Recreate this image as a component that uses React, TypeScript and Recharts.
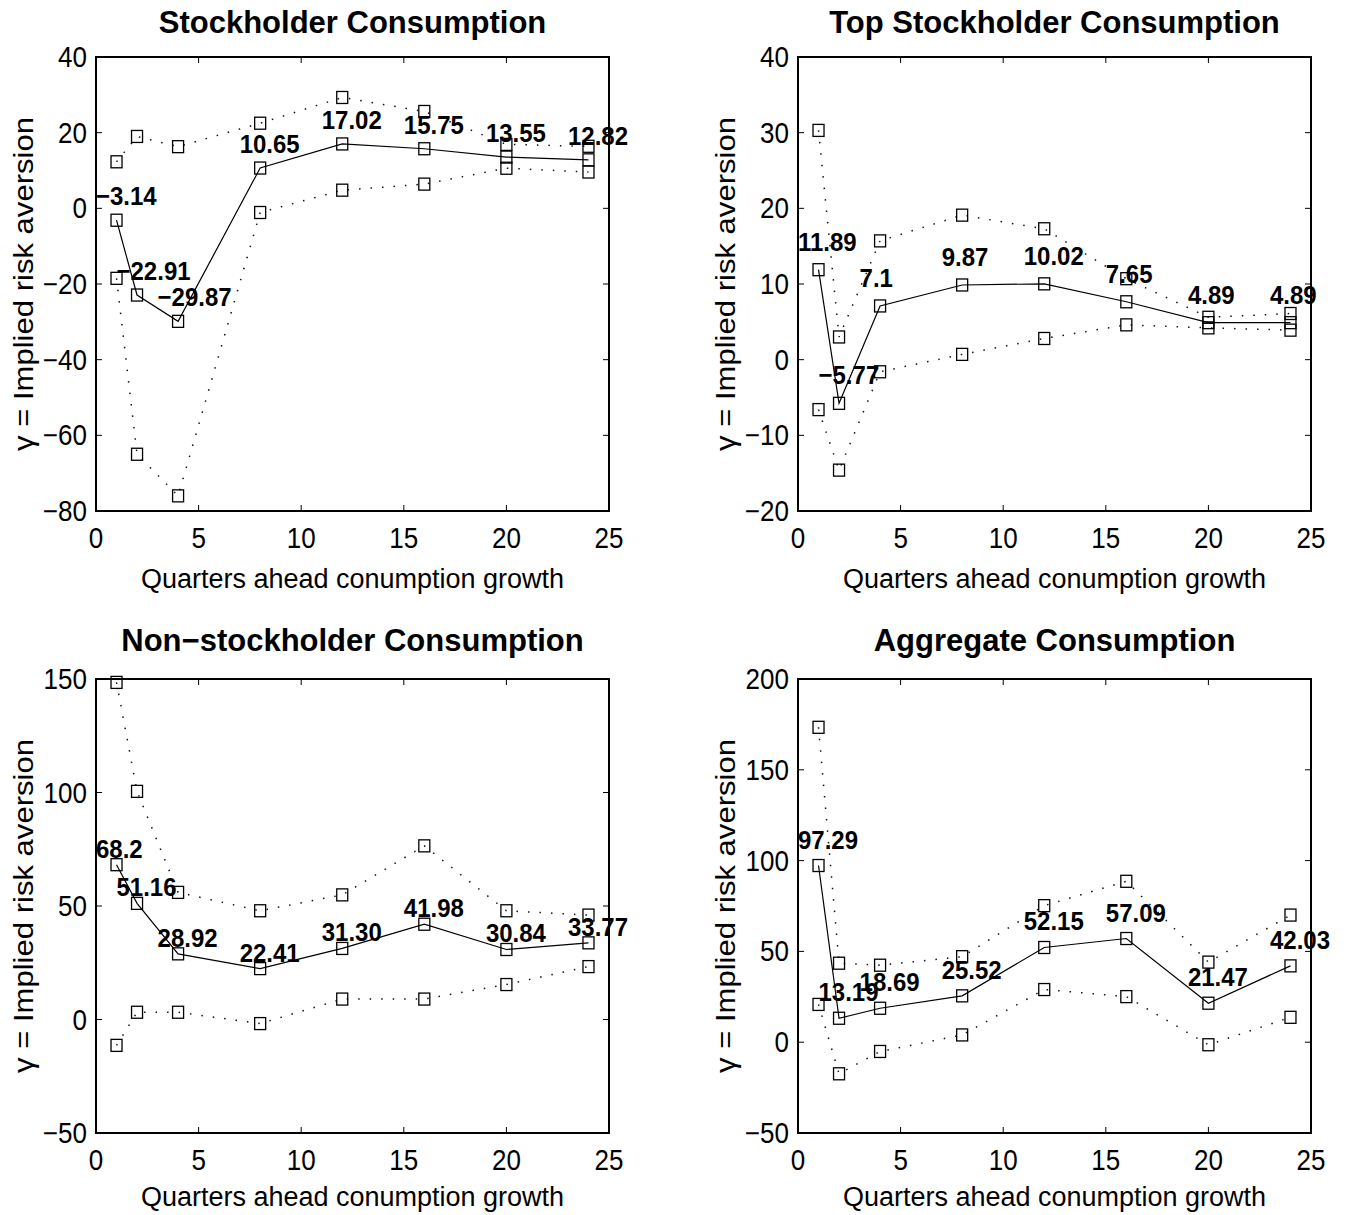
import React from 'react';
import { LabelList, Line, LineChart, ReferenceArea, XAxis, YAxis } from 'recharts';

// horizon in quarters, shared by all four panels
const quarters = [1, 2, 4, 8, 12, 16, 20, 24];
const xTicks = [0, 5, 10, 15, 20, 25];

// Stockholder consumption
const stockEst = [-3.14, -22.91, -29.87, 10.65, 17.02, 15.75, 13.55, 12.82];
const stockUpper = [12.3, 19.0, 16.3, 22.5, 29.3, 25.6, 16.9, 16.4];
const stockLower = [-18.5, -65, -76, -1.1, 4.8, 6.4, 10.6, 9.6];
const stockLabels = ['−3.14', '−22.91', '−29.87', '10.65', '17.02', '15.75', '13.55', '12.82'];
const stockTicks = [-80, -60, -40, -20, 0, 20, 40];

// Top stockholder consumption
const topEst = [11.89, -5.77, 7.1, 9.87, 10.02, 7.65, 4.89, 4.89];
const topUpper = [30.3, 3.0, 15.7, 19.1, 17.3, 10.7, 5.6, 6.1];
const topLower = [-6.6, -14.6, -1.6, 0.7, 2.8, 4.6, 4.2, 3.9];
const topLabels = ['11.89', '−5.77', '7.1', '9.87', '10.02', '7.65', '4.89', '4.89'];
const topTicks = [-20, -10, 0, 10, 20, 30, 40];

// Non-stockholder consumption
const nonEst = [68.2, 51.16, 28.92, 22.41, 31.3, 41.98, 30.84, 33.77];
const nonUpper = [148.5, 100.5, 56, 47.9, 54.9, 76.5, 47.9, 46];
const nonLower = [-11.4, 3.2, 3.2, -1.8, 9, 9, 15.4, 23.3];
const nonLabels = ['68.2', '51.16', '28.92', '22.41', '31.30', '41.98', '30.84', '33.77'];
const nonTicks = [-50, 0, 50, 100, 150];

// Aggregate consumption
const aggEst = [97.29, 13.19, 18.69, 25.52, 52.15, 57.09, 21.47, 42.03];
const aggUpper = [173.4, 43.5, 42.4, 47.1, 75.2, 88.6, 44.1, 70];
const aggLower = [20.8, -17.4, -5.1, 4, 29, 25.1, -1.4, 13.7];
const aggLabels = ['97.29', '13.19', '18.69', '25.52', '52.15', '57.09', '21.47', '42.03'];
const aggTicks = [-50, 0, 50, 100, 150, 200];

const FONT = '"Liberation Sans", Arial, Helvetica, sans-serif';
const PAD_L = 96;
const PAD_T = 57;
const PAD_R = 34;
const PAD_B = 84;
const PLOT_W = 513;
const PLOT_H = 454;
const CHART_W = PAD_L + PLOT_W + PAD_R;
const CHART_H = PAD_T + PLOT_H + PAD_B;
const PLOT_BOTTOM = PAD_T + PLOT_H;
const PLOT_RIGHT = PAD_L + PLOT_W;
const TICK_LEN = 6;
// the original figure is a bit stretched vertically, text included
const STRETCH = 1.1;

const fmt = (v: number) => (v < 0 ? '−' + Math.abs(v) : String(v));

const XTick = (props: any) => {
  const { x, payload } = props;
  return (
    <g>
      <line x1={x} x2={x} y1={PLOT_BOTTOM} y2={PLOT_BOTTOM - TICK_LEN} stroke="#000" />
      <line x1={x} x2={x} y1={PAD_T} y2={PAD_T + TICK_LEN} stroke="#000" />
      <text
        transform={`translate(${x},${PLOT_BOTTOM + 37}) scale(1,${STRETCH})`}
        textAnchor="middle"
        fontSize={26}
        fontFamily={FONT}
        fill="#000"
      >
        {fmt(payload.value)}
      </text>
    </g>
  );
};

const YTick = (props: any) => {
  const { y, payload } = props;
  return (
    <g>
      <line x1={PAD_L} x2={PAD_L + TICK_LEN} y1={y} y2={y} stroke="#000" />
      <line x1={PLOT_RIGHT} x2={PLOT_RIGHT - TICK_LEN} y1={y} y2={y} stroke="#000" />
      <text
        transform={`translate(${PAD_L - 9},${y + 10}) scale(1,${STRETCH})`}
        textAnchor="end"
        fontSize={26}
        fontFamily={FONT}
        fill="#000"
      >
        {fmt(payload.value)}
      </text>
    </g>
  );
};

const SquareDot = (p: any) => {
  if (p.cx == null || p.cy == null) return <g key={`n${p.index}`} />;
  return (
    <rect
      key={`s${p.dataKey}${p.index}`}
      x={p.cx - 5.5}
      y={p.cy - 6}
      width={11}
      height={12}
      fill="none"
      stroke="#000"
      strokeWidth={1.3}
    />
  );
};

type PanelProps = {
  title: string;
  est: number[];
  upper: number[];
  lower: number[];
  labels: string[];
  yTicks: number[];
  lift: number;
  plotLeft: number;
  plotTop: number;
  titleGap: number;
  xLabelGap: number;
};

const Panel = ({ title, est, upper, lower, labels, yTicks, lift, plotLeft, plotTop, titleGap, xLabelGap }: PanelProps) => {
  const data = quarters.map((q, i) => ({ q, est: est[i], hi: upper[i], lo: lower[i] }));
  const yMin = yTicks[0];
  const yMax = yTicks[yTicks.length - 1];
  const left = plotLeft - PAD_L;
  const top = plotTop - PAD_T;
  const cx = plotLeft + PLOT_W / 2;
  const cy = plotTop + PLOT_H / 2;
  const unit = PLOT_W / 25;

  // value labels sit one quarter to the left of each estimate, above it
  const renderLabel = (p: any) => {
    if (p.x == null || p.y == null) return null;
    return (
      <text
        key={`l${p.index}`}
        transform={`translate(${p.x - unit},${p.y - lift + 9}) scale(1,${STRETCH})`}
        fontSize={24}
        fontWeight="bold"
        fontFamily={FONT}
        fill="#000"
      >
        {labels[p.index]}
      </text>
    );
  };

  return (
    <>
      <div style={{ position: 'absolute', left, top, width: CHART_W, height: CHART_H }}>
        <LineChart
          width={CHART_W}
          height={CHART_H}
          data={data}
          margin={{ top: PAD_T, right: PAD_R, bottom: 0, left: 0 }}
        >
          <XAxis
            type="number"
            dataKey="q"
            domain={[0, 25]}
            ticks={xTicks}
            interval={0}
            height={PAD_B}
            axisLine={false}
            tickLine={false}
            tick={XTick}
          />
          <YAxis
            type="number"
            domain={[yMin, yMax]}
            ticks={yTicks}
            interval={0}
            width={PAD_L}
            axisLine={false}
            tickLine={false}
            tick={YTick}
          />
          <ReferenceArea x1={0} x2={25} y1={yMin} y2={yMax} fill="none" fillOpacity={0} stroke="#000" strokeWidth={2} />
          <Line
            dataKey="hi"
            stroke="#111"
            strokeWidth={1.5}
            strokeDasharray="1.5 10"
            dot={SquareDot}
            activeDot={false}
            isAnimationActive={false}
          />
          <Line
            dataKey="lo"
            stroke="#111"
            strokeWidth={1.5}
            strokeDasharray="1.5 10"
            dot={SquareDot}
            activeDot={false}
            isAnimationActive={false}
          />
          <Line
            dataKey="est"
            stroke="#000"
            strokeWidth={1.2}
            dot={SquareDot}
            activeDot={false}
            isAnimationActive={false}
          >
            <LabelList dataKey="est" content={renderLabel} />
          </Line>
        </LineChart>
      </div>
      <div
        style={{
          position: 'absolute',
          left: cx - 320,
          width: 640,
          top: plotTop - titleGap - 0.846 * 31,
          textAlign: 'center',
          fontSize: 31,
          fontWeight: 'bold',
          lineHeight: 1,
          whiteSpace: 'nowrap',
        }}
      >
        {title}
      </div>
      <div
        style={{
          position: 'absolute',
          left: cx - 320,
          width: 640,
          top: plotTop + PLOT_H + xLabelGap - 0.846 * 27,
          textAlign: 'center',
          fontSize: 27,
          lineHeight: 1,
          whiteSpace: 'nowrap',
        }}
      >
        Quarters ahead conumption growth
      </div>
      <div
        style={{
          position: 'absolute',
          left: plotLeft - 72,
          top: cy,
          fontSize: 27,
          lineHeight: 1,
          whiteSpace: 'nowrap',
          transform: 'translate(-50%, -50%) rotate(-90deg) scaleX(1.15)',
        }}
      >
        γ = Implied risk aversion
      </div>
    </>
  );
};

export default function App() {
  return (
    <div
      style={{
        position: 'absolute',
        left: 0,
        top: 0,
        width: 1346,
        height: 1215,
        overflow: 'hidden',
        background: '#fff',
        fontFamily: FONT,
        color: '#000',
      }}
    >
      <Panel
        title="Stockholder Consumption"
        est={stockEst}
        upper={stockUpper}
        lower={stockLower}
        labels={stockLabels}
        yTicks={stockTicks}
        lift={24}
        plotLeft={96}
        plotTop={57}
        titleGap={24}
        xLabelGap={78}
      />
      <Panel
        title="Top Stockholder Consumption"
        est={topEst}
        upper={topUpper}
        lower={topLower}
        labels={topLabels}
        yTicks={topTicks}
        lift={28}
        plotLeft={798}
        plotTop={57}
        titleGap={24}
        xLabelGap={78}
      />
      <Panel
        title="Non−stockholder Consumption"
        est={nonEst}
        upper={nonUpper}
        lower={nonLower}
        labels={nonLabels}
        yTicks={nonTicks}
        lift={16}
        plotLeft={96}
        plotTop={679}
        titleGap={28}
        xLabelGap={74}
      />
      <Panel
        title="Aggregate Consumption"
        est={aggEst}
        upper={aggUpper}
        lower={aggLower}
        labels={aggLabels}
        yTicks={aggTicks}
        lift={26}
        plotLeft={798}
        plotTop={679}
        titleGap={28}
        xLabelGap={74}
      />
    </div>
  );
}
